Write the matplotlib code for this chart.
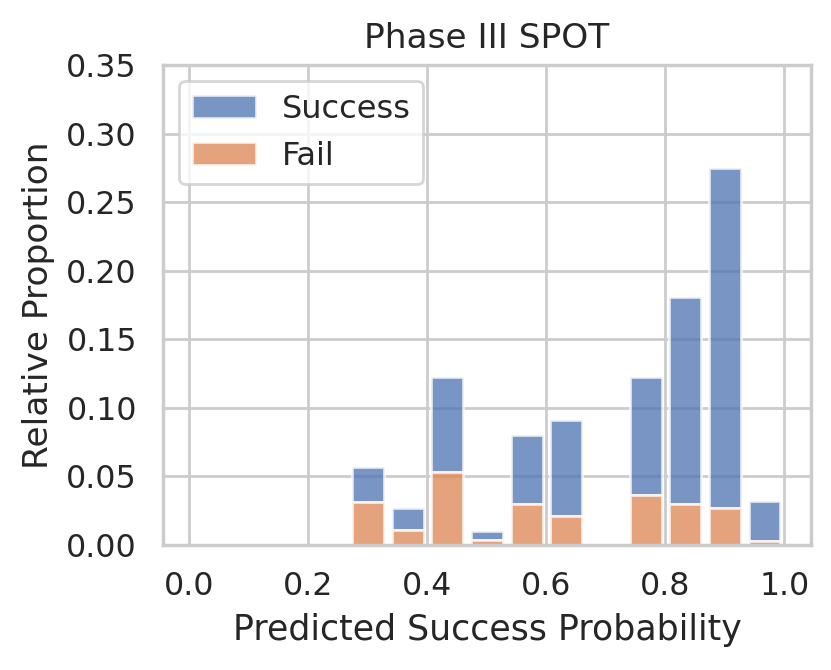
import numpy as np
import matplotlib
matplotlib.use("Agg")
import matplotlib.pyplot as plt
import seaborn as sns

# 11 bins between the lowest and highest predicted probability
bin_lo, bin_hi, n_bins = 0.2667, 1.0, 11
# relative proportion per bin (stacked: fail at the bottom, success above)
fail = [0.031, 0.011, 0.053, 0.0035, 0.030, 0.021, 0.0, 0.036, 0.030, 0.027, 0.003]
success = [0.026, 0.016, 0.069, 0.0065, 0.050, 0.070, 0.0, 0.086, 0.151, 0.248, 0.029]

sns.set_theme(style="whitegrid")
plt.rcParams['font.family'] = ['DejaVu Sans']

edges = np.linspace(bin_lo, bin_hi, n_bins + 1)
width = edges[1] - edges[0]
centers = edges[:-1] + width / 2
fail = np.array(fail)
success = np.array(success)

fig = plt.figure(figsize=(4.155, 3.35), dpi=200)
ax = fig.add_axes([0.1965, 0.187, 0.7790, 0.716])

blue, orange = sns.color_palette("deep")[0], sns.color_palette("deep")[1]
ax.bar(centers, success, width=width * 0.8, bottom=fail, color=blue,
       edgecolor="white", linewidth=1, alpha=0.75, label="Success")
ax.bar(centers, fail, width=width * 0.8, color=orange,
       edgecolor="white", linewidth=1, alpha=0.75, label="Fail")

ax.set_xlim(-0.044, 1.044)
ax.set_ylim(0, 0.35)
ax.set_xticks([0.0, 0.2, 0.4, 0.6, 0.8, 1.0])
ax.set_yticks(np.arange(0, 0.351, 0.05))
ax.tick_params(labelsize=11.4)
ax.set_axisbelow(True)

ax.set_title("Phase III SPOT", fontsize=12.4)
ax.set_xlabel("Predicted Success Probability", fontsize=12.5)
ax.set_ylabel("Relative Proportion", fontsize=12.4)
ax.legend(loc="upper left", fontsize=11.5)

fig.savefig("out.png", dpi=200)
